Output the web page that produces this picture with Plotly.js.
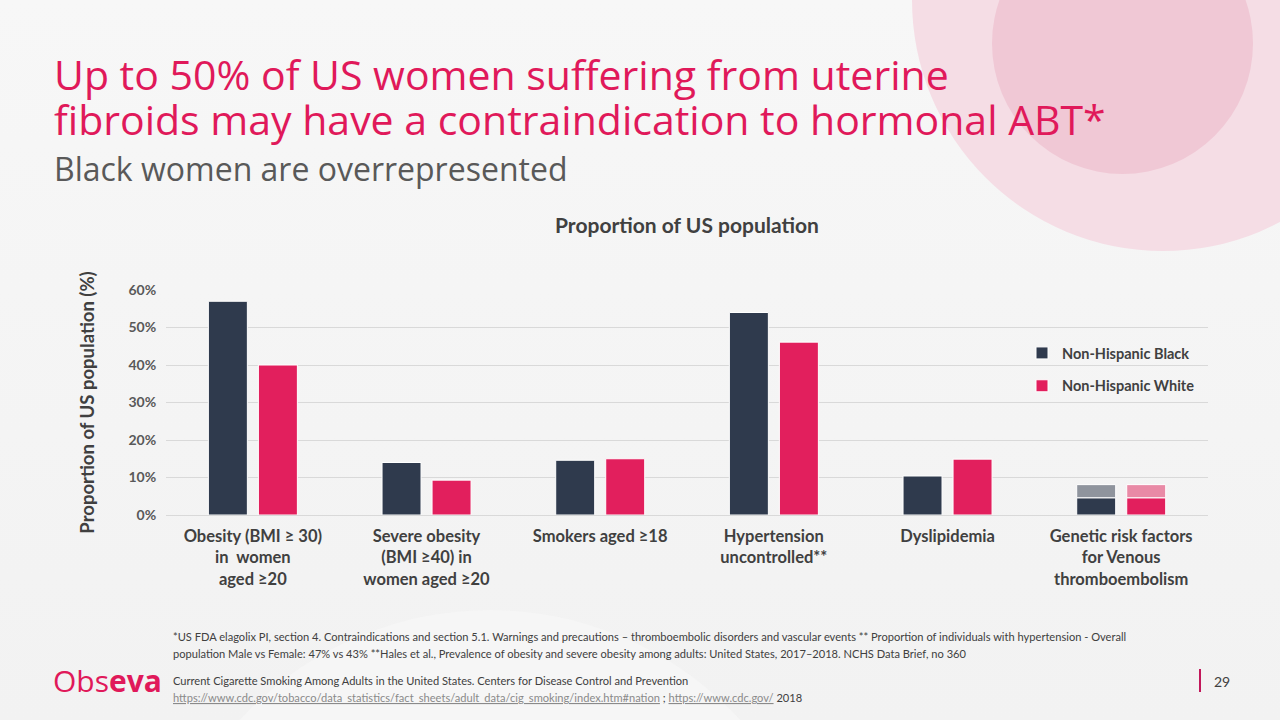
<!DOCTYPE html>
<html>
<head>
<meta charset="utf-8">
<script src="https://cdn.plot.ly/plotly-3.0.1.min.js"></script>
<style>
  html, body { margin:0; padding:0; width:1280px; height:720px; overflow:hidden;
    background: linear-gradient(180deg, #f7f7f7 0%, #f2f2f2 100%); }
  .bg { position:absolute; border-radius:50%; }
  #c1 { left:912px; top:-251px; width:502px; height:502px; background:#f5dde5; }
  #c2 { left:992px; top:-87px; width:261px; height:261px; background:#f0c8d5; }
  #c3 { left:150px; top:610px; width:680px; height:680px; background:#f6f6f6; opacity:0.8; }
  #chart { position:absolute; left:0; top:0; width:1280px; height:720px; }
</style>
</head>
<body>
<div class="bg" id="c1"></div>
<div class="bg" id="c2"></div>
<div class="bg" id="c3"></div>
<div id="chart"></div>
<script>
// ---- data ----
const categories = [
  "Obesity (BMI ≥ 30) in women aged ≥20",
  "Severe obesity (BMI ≥40) in women aged ≥20",
  "Smokers aged ≥18",
  "Hypertension uncontrolled**",
  "Dyslipidemia",
  "Genetic risk factors for Venous thromboembolism"
];
const tickLabels = [
  "Obesity (BMI ≥ 30)<br>in  women<br>aged ≥20",
  "Severe obesity<br>(BMI ≥40) in<br>women aged ≥20",
  "Smokers aged ≥18",
  "Hypertension<br>uncontrolled**",
  "Dyslipidemia",
  "Genetic risk factors<br>for Venous<br>thromboembolism"
];
const seriesNames = ["Non-Hispanic Black", "Non-Hispanic White"];
const blackValues = [57, 14, 14.6, 54, 10.4, 4.6];
const whiteValues = [40, 9.3, 15.0, 46.1, 14.9, 4.6];
// additional (lighter) segment on the genetic risk factor bars
const geneticExtraBlack = [3.5];
const geneticExtraWhite = [3.5];
const yTicks = [0, 10, 20, 30, 40, 50, 60];

// ---- layout helpers ----
const W = 1280, H = 720;
const M = { l: 166, r: 72, t: 290, b: 205 };
const PW = W - M.l - M.r, PH = H - M.t - M.b;
const px = x => (x - M.l) / PW;
const py = y => (H - M.b - y) / PH;

const dark = "#2f3a4d", pink = "#e21f5d", lightDark = "#8f949d", lightPink = "#e98aa6";
const barW = 0.2245, offB = -0.256, offW = 0.032;
const fontMain = "Lato, 'Open Sans', sans-serif";

const traces = [
  { type: "bar", name: "<b>" + seriesNames[0] + "</b>", x: categories, y: blackValues,
    width: barW, offset: offB, marker: { color: dark, line: { color: "#ffffff", width: 1 } },
    legendgroup: "b", hoverinfo: "y" },
  { type: "bar", name: "<b>" + seriesNames[1] + "</b>", x: categories, y: whiteValues,
    width: barW, offset: offW, marker: { color: pink, line: { color: "#ffffff", width: 1 } },
    legendgroup: "w", hoverinfo: "y" },
  { type: "bar", name: seriesNames[0] + " (extra)", x: [categories[5]], y: geneticExtraBlack,
    base: [blackValues[5]], width: barW, offset: offB, showlegend: false,
    marker: { color: lightDark, line: { color: "#ffffff", width: 1 } } },
  { type: "bar", name: seriesNames[1] + " (extra)", x: [categories[5]], y: geneticExtraWhite,
    base: [whiteValues[5]], width: barW, offset: offW, showlegend: false,
    marker: { color: lightPink, line: { color: "#ffffff", width: 1 } } }
];

const foot = "#404040";
const titleFont = { family: "'Open Sans', sans-serif", size: 41, color: "#e0195a" };
const footFont = { family: fontMain, size: 11.1, color: foot };
const annotations = [
  { text: "Up to 50% of US women suffering from uterine",
    x: px(52), y: py(74), xanchor: "left", yanchor: "middle", align: "left", font: titleFont },
  { text: "fibroids may have a contraindication to hormonal ABT*",
    x: px(52), y: py(119), xanchor: "left", yanchor: "middle", align: "left", font: titleFont },
  { text: "Black women are overrepresented",
    x: px(52), y: py(168), xanchor: "left", yanchor: "middle", align: "left",
    font: { family: "'Open Sans', sans-serif", size: 32, color: "#595959" } },
  { text: "*US FDA elagolix PI, section 4. Contraindications and section 5.1. Warnings and precautions – thromboembolic disorders and vascular events ** Proportion of individuals with hypertension - Overall",
    x: px(171), y: py(636), xanchor: "left", yanchor: "middle", align: "left", font: footFont },
  { text: "population Male vs Female: 47% vs 43% **Hales et al., Prevalence of obesity and severe obesity among adults: United States, 2017–2018. NCHS Data Brief, no 360",
    x: px(171), y: py(653), xanchor: "left", yanchor: "middle", align: "left", font: footFont },
  { text: "Current Cigarette Smoking Among Adults in the United States. Centers for Disease Control and Prevention",
    x: px(171), y: py(680), xanchor: "left", yanchor: "middle", align: "left", font: footFont },
  { text: "<span style='text-decoration:underline;fill:#8a8a8a'>https://www.cdc.gov/tobacco/data_statistics/fact_sheets/adult_data/cig_smoking/index.htm#nation</span> ; <span style='text-decoration:underline;fill:#8a8a8a'>https://www.cdc.gov/</span> 2018",
    x: px(171), y: py(697), xanchor: "left", yanchor: "middle", align: "left", font: footFont },
  { text: "Obs<b>eva</b>",
    x: px(51), y: py(680), xanchor: "left", yanchor: "middle", align: "left",
    font: { family: "'Open Sans', sans-serif", size: 30, color: "#e0195a" } },
  { text: "29",
    x: px(1212), y: py(681), xanchor: "left", yanchor: "middle", align: "left",
    font: { family: fontMain, size: 14, color: foot } }
];
for (const a of annotations) { a.xref = "paper"; a.yref = "paper"; a.showarrow = false; }

const layout = {
  width: W, height: H,
  margin: M,
  paper_bgcolor: "rgba(0,0,0,0)",
  plot_bgcolor: "rgba(0,0,0,0)",
  barmode: "overlay",
  title: { text: "<b>Proportion of US population</b>", xref: "container", x: 687 / W, xanchor: "center",
    yref: "container", y: 1 - 226 / H, yanchor: "middle",
    font: { family: fontMain, size: 21, color: "#404040" } },
  xaxis: {
    type: "category", range: [-0.5, 5.5],
    tickvals: categories, ticktext: tickLabels.map(t => "<b>" + t + "</b>"),
    tickfont: { family: fontMain, size: 16.5, color: "#404040" },
    showgrid: false, zeroline: false, showline: false,
    ticks: "outside", ticklen: 6, tickcolor: "rgba(0,0,0,0)", fixedrange: true
  },
  yaxis: {
    range: [0, 60], tickvals: yTicks, ticktext: yTicks.map(v => "<b>" + v + "%</b>"),
    tickfont: { family: fontMain, size: 14, color: "#595959" },
    showgrid: true, gridcolor: "#d9d9d9", gridwidth: 1,
    zeroline: true, zerolinecolor: "#d9d9d9", zerolinewidth: 1,
    ticks: "outside", ticklen: 6, tickcolor: "rgba(0,0,0,0)",
    title: { text: "<b>Proportion of US population (%)</b>", standoff: 29,
      font: { family: fontMain, size: 18.5, color: "#404040" } },
    fixedrange: true
  },
  legend: {
    x: px(1022), y: py(337), xanchor: "left", yanchor: "top",
    bgcolor: "rgba(0,0,0,0)", traceorder: "grouped", tracegroupgap: 11,
    font: { family: fontMain, size: 14.5, color: "#404040" },
    itemwidth: 30
  },
  shapes: [
    { type: "line", xref: "paper", yref: "paper", x0: px(1200), x1: px(1200), y0: py(669), y1: py(692),
      line: { color: "#c2185b", width: 2 } }
  ],
  annotations: annotations,
  showlegend: true
};

Plotly.newPlot("chart", traces, layout, { displayModeBar: false, staticPlot: true });
</script>
</body>
</html>
